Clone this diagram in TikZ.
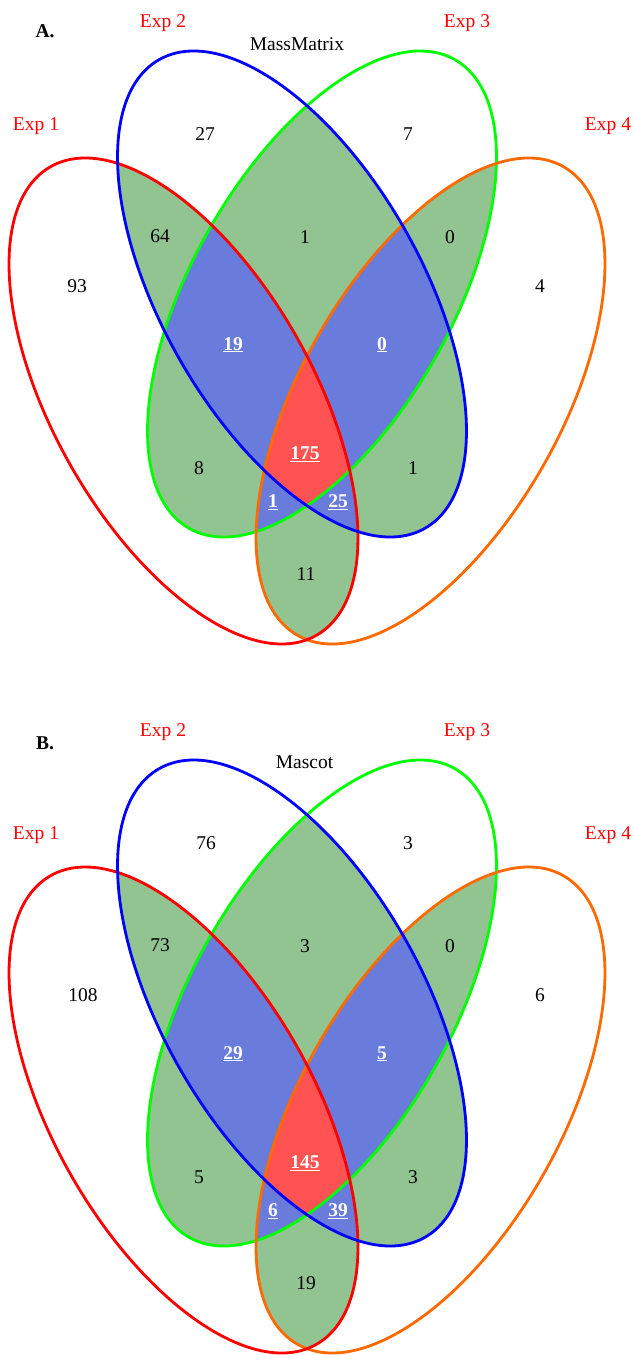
\documentclass[tikz,border=0pt]{standalone}
\usepackage{fontspec}
\setmainfont{Liberation Serif}
\definecolor{lR}{HTML}{FF0000}
\definecolor{lB}{HTML}{0000FF}
\definecolor{lG}{HTML}{00FF00}
\definecolor{lO}{HTML}{FF6A00}
\definecolor{fillG}{HTML}{91C490}
\definecolor{fillB}{HTML}{6A7CDB}
\definecolor{fillR}{HTML}{FF5252}
\tikzset{
  eR/.style={shift={(183.5pt,-401pt)},rotate=-60.45},
  eB/.style={shift={(292pt,-294pt)},rotate=-60.45},
  eG/.style={shift={(322pt,-294pt)},rotate=60.45},
  eO/.style={shift={(430.5pt,-401pt)},rotate=60.45},
  fGreen/.style={fill=fillG},
  fBlue/.style={fill=fillB},
  fRed/.style={fill=fillR},
  oline/.style={line width=2.8pt},
  num/.style={anchor=base,inner sep=0pt,font=\fontsize{19.5}{23}\selectfont},
  unum/.style={anchor=base,inner sep=0pt,text=white,font=\fontsize{19.5}{23}\selectfont\bfseries},
  explab/.style={anchor=base,inner sep=0pt,text=lR,font=\fontsize{19.5}{23}\selectfont},
  paneltitle/.style={anchor=base,inner sep=0pt,font=\fontsize{19.5}{23}\selectfont},
  panelletter/.style={anchor=base,inner sep=0pt,font=\fontsize{19.5}{23}\selectfont\bfseries},
}
\newcommand\venclip[1]{\clip[#1] (0,0) ellipse [x radius=269.4pt, y radius=130pt];}
\newcommand\venfill[2]{\fill[#1,#2] (0,0) ellipse [x radius=269.4pt, y radius=130pt];}
\newcommand\vendraw[2]{\draw[oline,draw=#2,#1] (0,0) ellipse [x radius=269.4pt, y radius=130pt];}
\newcommand\venfills{%
  \begin{scope}\venclip{eR}\venfill{eB}{fGreen}\end{scope}
  \begin{scope}\venclip{eR}\venfill{eG}{fGreen}\end{scope}
  \begin{scope}\venclip{eR}\venfill{eO}{fGreen}\end{scope}
  \begin{scope}\venclip{eB}\venfill{eG}{fGreen}\end{scope}
  \begin{scope}\venclip{eB}\venfill{eO}{fGreen}\end{scope}
  \begin{scope}\venclip{eG}\venfill{eO}{fGreen}\end{scope}
  \begin{scope}\venclip{eR}\venclip{eB}\venfill{eG}{fBlue}\end{scope}
  \begin{scope}\venclip{eR}\venclip{eB}\venfill{eO}{fBlue}\end{scope}
  \begin{scope}\venclip{eR}\venclip{eG}\venfill{eO}{fBlue}\end{scope}
  \begin{scope}\venclip{eB}\venclip{eG}\venfill{eO}{fBlue}\end{scope}
  \begin{scope}\venclip{eR}\venclip{eB}\venclip{eG}\venfill{eO}{fRed}\end{scope}
  \vendraw{eG}{lG}
  \vendraw{eO}{lO}
  \vendraw{eR}{lR}
  \vendraw{eB}{lB}
}
\begin{document}
\begin{tikzpicture}[x=1pt,y=1pt]
\useasboundingbox (0,0) rectangle (633,-1355);
% ---------- Panel A ----------
\begin{scope}
  \venfills
  \node[panelletter] (Aletter) at (45,-37) {A.};
  \node[paneltitle] (Atitle) at (297,-50) {MassMatrix};
  \node[explab] (Aexp1) at (36,-130.5) {Exp 1};
  \node[explab] (Aexp2) at (163,-27) {Exp 2};
  \node[explab] (Aexp3) at (467,-27) {Exp 3};
  \node[explab] (Aexp4) at (608,-130) {Exp 4};
  \node[num] (An27) at (205,-140.5) {27};
  \node[num] (An7) at (408,-140.5) {7};
  \node[num] (An64) at (160,-242.5) {64};
  \node[num] (An1a) at (305,-243) {1};
  \node[num] (An0a) at (450,-243) {0};
  \node[num] (An93) at (77,-292.5) {93};
  \node[num] (An4) at (540,-292) {4};
  \node[unum] (An19) at (233,-350) {\underline{19}};
  \node[unum] (An0b) at (382,-350) {\underline{0}};
  \node[num] (An8) at (199,-474) {8};
  \node[unum] (An175) at (305,-459.5) {\underline{175}};
  \node[num] (An1b) at (413,-474) {1};
  \node[unum] (An1c) at (273,-507.5) {\underline{1}};
  \node[unum] (An25) at (338,-507.5) {\underline{25}};
  \node[num] (An11) at (306,-580) {11};
\end{scope}
% ---------- Panel B ----------
\begin{scope}[yshift=-709pt]
  \venfills
  \node[panelletter] (Bletter) at (45,-40) {B.};
  \node[paneltitle] (Btitle) at (304.5,-59.3) {Mascot};
  \node[explab] (Bexp1) at (36,-130.5) {Exp 1};
  \node[explab] (Bexp2) at (163,-27) {Exp 2};
  \node[explab] (Bexp3) at (467,-27) {Exp 3};
  \node[explab] (Bexp4) at (608,-130) {Exp 4};
  \node[num] (Bn76) at (206,-140.5) {76};
  \node[num] (Bn3a) at (408,-140.5) {3};
  \node[num] (Bn73) at (160,-242.5) {73};
  \node[num] (Bn3b) at (305,-243) {3};
  \node[num] (Bn0) at (450,-243) {0};
  \node[num] (Bn108) at (83,-292) {108};
  \node[num] (Bn6a) at (540,-292) {6};
  \node[unum] (Bn29) at (233,-350) {\underline{29}};
  \node[unum] (Bn5a) at (382,-350) {\underline{5}};
  \node[num] (Bn5b) at (199,-474) {5};
  \node[unum] (Bn145) at (305,-459.5) {\underline{145}};
  \node[num] (Bn3c) at (413,-474) {3};
  \node[unum] (Bn6b) at (273,-507.5) {\underline{6}};
  \node[unum] (Bn39) at (338,-507.5) {\underline{39}};
  \node[num] (Bn19) at (306,-580) {19};
\end{scope}
\end{tikzpicture}
\end{document}
